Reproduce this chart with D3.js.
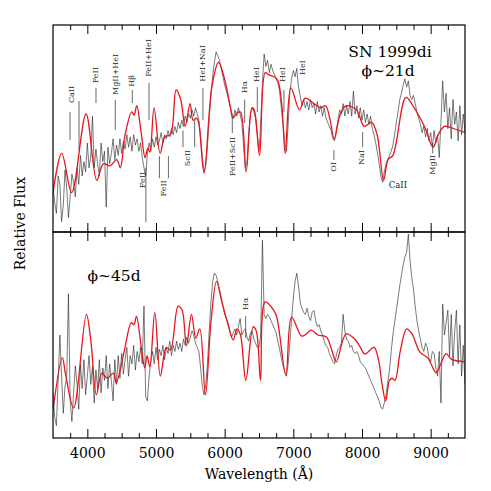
<!DOCTYPE html>
<html>
<head>
<meta charset="utf-8">
<script src="https://cdn.jsdelivr.net/npm/d3@7"></script>
<style>
  body { margin: 0; background: #fff; }
  svg { font-family: "DejaVu Serif", serif; }
  .frame { fill: none; stroke: #000; stroke-width: 1.2; }
  .tick line { stroke: #000; stroke-width: 1; }
  .tick text { font-size: 14px; fill: #000; font-family: "DejaVu Serif", serif; }
  .obs { fill: none; stroke: #222; stroke-width: 0.75; stroke-opacity: 0.8; }
  .model { fill: none; stroke: #e8141c; stroke-width: 1.3; }
  .id-line { stroke: #444; stroke-width: 0.8; }
  .id-text { font-size: 8px; fill: #222; }
</style>
</head>
<body>
<div id="wrapper"></div>
<script>
// wavelength grid of the observed spectra (Angstrom), 25 A sampling
const obsWavelengths = d3.range(3500, 9501, 25)

// observed spectrum, phase ~21d (relative flux, 0-100 of panel); one row = 200 A
const obsTop = [
  [22, 14, 9, 27, 23, 5, 13, 30],     // 3500
  [21, 7, 17, 28, 24, 17, 31, 23],    // 3700
  [37, 27, 34, 29, 43, 31, 37, 56],   // 3900
  [31, 40, 33, 27, 43, 34, 39, 12],   // 4100
  [41, 33, 38, 45, 35, 42, 37, 45],   // 4300
  [38, 44, 40, 47, 41, 46, 39, 47],   // 4500
  [42, 45, 39, 43, 36, 31, 27, 38],   // 4700
  [43, 39, 45, 41, 46, 42, 44, 48],   // 4900
  [43, 47, 45, 49, 46, 50, 47, 51],   // 5100
  [48, 53, 50, 54, 51, 56, 53, 57],   // 5300
  [55, 59, 56, 60, 57, 54, 46, 36],   // 5500
  [29, 32, 42, 55, 66, 75, 82, 87],   // 5700
  [85, 83, 79, 75, 71, 68, 65, 61],   // 5900
  [58, 55, 59, 56, 60, 57, 53, 42],   // 6100
  [31, 34, 47, 57, 60, 58, 55, 47],   // 6300
  [39, 52, 72, 86, 80, 83, 77, 81],   // 6500
  [78, 76, 74, 72, 68, 60, 52, 43],   // 6700
  [39, 52, 68, 74, 78, 75, 79, 70],   // 6900
  [66, 61, 64, 60, 63, 59, 64, 60],   // 7100
  [62, 57, 63, 58, 61, 56, 60, 55],   // 7300
  [53, 51, 49, 45, 44, 49, 54, 59],   // 7500
  [57, 62, 56, 61, 57, 63, 56, 68],   // 7700
  [57, 61, 55, 60, 54, 59, 53, 57],   // 7900
  [52, 56, 50, 47, 43, 38, 33, 27],   // 8100
  [24, 29, 33, 35, 37, 39, 42, 47],   // 8300
  [53, 58, 64, 67, 71, 74, 70, 73],   // 8500
  [66, 64, 66, 62, 58, 55, 52, 48],   // 8700
  [51, 46, 50, 44, 48, 41, 49, 43],   // 8900
  [47, 36, 53, 73, 58, 67, 50, 60],   // 9100
  [45, 64, 52, 58, 44, 61, 47, 57],   // 9300
  [48],                               // 9500
].flat()

// observed spectrum, phase ~45d
const obsBottom = [
  [22, 10, 6, 28, 50, 30, 12, 25],    // 3500
  [30, 70, 18, 8, 22, 35, 26, 14],    // 3700
  [36, 24, 38, 21, 30, 40, 26, 35],   // 3900
  [17, 33, 24, 38, 22, 34, 28, 40],   // 4100
  [24, 36, 28, 18, 38, 26, 40, 29],   // 4300
  [41, 31, 38, 44, 30, 40, 36, 45],   // 4500
  [33, 42, 37, 44, 36, 64, 20, 18],   // 4700
  [30, 37, 42, 36, 44, 38, 43, 40],   // 4900
  [45, 38, 44, 41, 47, 40, 45, 42],   // 5100
  [47, 43, 46, 42, 48, 45, 49, 46],   // 5300
  [49, 52, 50, 46, 44, 42, 34, 25],   // 5500
  [21, 26, 36, 52, 66, 76, 80, 79],   // 5700
  [76, 72, 68, 64, 60, 58, 56, 52],   // 5900
  [49, 51, 53, 50, 54, 58, 50, 52],   // 6100
  [53, 49, 47, 51, 52, 48, 46, 44],   // 6300
  [44, 50, 96, 60, 58, 60, 59, 57],   // 6500
  [55, 53, 51, 47, 43, 39, 35, 32],   // 6700
  [30, 36, 46, 58, 68, 76, 80, 74],   // 6900
  [66, 63, 61, 60, 63, 59, 57, 61],   // 7100
  [62, 57, 54, 55, 52, 50, 47, 45],   // 7300
  [44, 41, 39, 37, 36, 40, 43, 44],   // 7500
  [46, 60, 52, 48, 47, 44, 45, 42],   // 7700
  [41, 42, 40, 37, 36, 35, 34, 32],   // 7900
  [30, 28, 26, 24, 22, 20, 18, 15],   // 8100
  [14, 17, 21, 27, 33, 42, 50, 56],   // 8300
  [62, 68, 74, 79, 84, 88, 90, 99],   // 8500
  [86, 78, 72, 64, 57, 52, 48, 44],   // 8700
  [42, 46, 44, 39, 37, 42, 41, 34],   // 8900
  [30, 42, 17, 65, 50, 56, 62, 40],   // 9100
  [60, 35, 52, 62, 36, 55, 30, 45],   // 9300
  [26],                               // 9500
].flat()

// synthetic model spectra [wavelength, relative flux]
const modelTop = [[3500, 19], [3627, 38], [3772, 19], [3981, 57], [4137, 25], [4234, 33], [4330, 32],
  [4428, 35], [4480, 31], [4550, 47], [4647, 58], [4680, 56.5], [4720, 61], [4780, 49], [4841, 36],
  [4880, 40.5], [4910, 38.6], [4972, 60], [5060, 38], [5130, 46], [5210, 47], [5293, 68.6], [5360, 64],
  [5424, 51], [5497, 62], [5540, 54], [5590, 55], [5620, 53], [5700, 28.5], [5813, 70], [5910, 82],
  [5990, 75], [6080, 61], [6120, 55], [6180, 57.5], [6230, 58], [6313, 29], [6397, 60], [6430, 59],
  [6508, 37], [6590, 77], [6640, 76], [6760, 74], [6830, 62], [6882, 38], [6965, 69.6], [7090, 59],
  [7173, 64.7], [7300, 62], [7400, 60], [7470, 61], [7530, 55], [7596, 45], [7680, 56.5], [7771, 61],
  [7920, 59], [8033, 51], [8140, 53], [8220, 47], [8315, 25], [8380, 35], [8450, 37], [8640, 65],
  [8760, 60], [8910, 51], [9035, 41], [9110, 47], [9200, 51], [9330, 50], [9500, 48]]

const modelBottom = [[3500, 13.6], [3636, 39], [3680, 31.5], [3800, 14.6], [3986, 60], [4050, 47.6],
  [4132, 21], [4210, 31.5], [4290, 29], [4380, 31.5], [4420, 26.7], [4530, 41], [4641, 56], [4680, 55],
  [4715, 59], [4790, 43], [4836, 34], [4870, 40], [4910, 34.5], [4983, 61], [5064, 30], [5150, 44],
  [5210, 42.7], [5322, 64], [5380, 62], [5443, 44.7], [5516, 60], [5580, 48.5], [5638, 53], [5720, 21],
  [5800, 56], [5881, 76], [5960, 66], [6050, 55], [6124, 47.6], [6180, 53], [6230, 50], [6308, 28],
  [6415, 54], [6460, 52], [6522, 28], [6586, 66], [6680, 63.6], [6750, 59.7], [6891, 30.6], [6974, 58.7],
  [7120, 49.5], [7190, 50.5], [7260, 52.4], [7360, 50], [7480, 49], [7560, 42.7], [7625, 37], [7767, 50.5],
  [7880, 48.5], [7960, 45], [8043, 40.8], [8175, 44], [8240, 37.9], [8290, 26.7], [8345, 18], [8400, 28],
  [8440, 29], [8480, 28], [8560, 42.7], [8650, 53], [8720, 51], [8845, 41.7], [8960, 38.8], [9079, 31.6],
  [9140, 35.4], [9225, 41], [9300, 38.3], [9500, 37]]

// line identifications: vertical marker [wavelength, flux from, flux to]
const idLinesTop = [[3748, 58, 44.4], [3879, 63.3, 39.6], [4126, 69.6, 62.3], [4407, 63.8, 49.3],
  [4655, 68.6, 62.3], [4898, 72, 54], [5393, 49, 41], [5563, 54, 41], [5684, 69.6, 54],
  [6291, 64, 52.7], [6475, 70, 58], [6863, 68.6, 58], [6111, 55.5, 47.8], [4853, 31, 4.8],
  [5050, 36.7, 26], [5181, 36.7, 26], [7591, 39.6, 34.8], [8009, 48.3, 41], [9029, 43, 38]]
// labels above the spectrum [text, wavelength, flux at text bottom]
const idAbove = [["CaII", 3766, 62.3], ["FeII", 4119, 71.8], ["MgII+HeI", 4410, 66.2], ["Hβ", 4650, 70.2],
  ["FeII+HeI", 4890, 75], ["HeI+NaI", 5684, 72.6], ["Hα", 6291, 67], ["HeI", 6460, 72.5],
  ["HeI", 6849, 72.5], ["HeI", 7135, 75.8]]
// labels below the spectrum [text, wavelength, flux at text top]
const idBelow = [["ScII", 5466, 39.6], ["FeII+ScII", 6111, 45.9], ["FeII", 4800, 29], ["FeII", 5102, 25],
  ["OI", 7591, 33.8], ["NaI", 7995, 39.6], ["MgII", 9029, 37.2]]
const idLinesBottom = [[6306, 59.2, 48.5]]
const idAboveBottom = [["Hα", 6306, 62.1]]

const majorTicks = [4000, 5000, 6000, 7000, 8000, 9000]
const minorTicks = [3750, 4250, 4500, 4750, 5250, 5500, 5750, 6250, 6500, 6750,
  7250, 7500, 7750, 8250, 8500, 8750, 9250]

function drawChart() {
  const dimensions = {
    width: 491,
    height: 491,
    left: 53,
    right: 465,
    top: 25,
    middle: 232,
    bottom: 438,
  }

  const svg = d3.select("#wrapper")
    .append("svg")
      .attr("width", dimensions.width)
      .attr("height", dimensions.height)

  const xScale = d3.scaleLinear()
    .domain([3500, 9500])
    .range([dimensions.left, dimensions.right])

  const yTop = d3.scaleLinear()
    .domain([0, 100])
    .range([dimensions.middle, dimensions.top])

  const yBottom = d3.scaleLinear()
    .domain([0, 100])
    .range([dimensions.bottom, dimensions.middle])

  const defs = svg.append("defs")
  const panels = [
    {id: "clip-top", y0: dimensions.top, y1: dimensions.middle},
    {id: "clip-bottom", y0: dimensions.middle, y1: dimensions.bottom},
  ]
  panels.forEach(p => {
    defs.append("clipPath").attr("id", p.id)
      .append("rect")
        .attr("x", dimensions.left)
        .attr("y", p.y0)
        .attr("width", dimensions.right - dimensions.left)
        .attr("height", p.y1 - p.y0)
  })

  // spectra: observed (black) and model (red)
  function drawPanel(clipId, yScale, obs, model) {
    const g = svg.append("g").attr("clip-path", `url(#${clipId})`)
    const obsLine = d3.line()
      .x((d, i) => xScale(obsWavelengths[i]))
      .y(d => yScale(d))
    g.append("path")
      .attr("class", "obs")
      .attr("d", obsLine(obs))
    const modelLine = d3.line()
      .x(d => xScale(d[0]))
      .y(d => yScale(d[1]))
      .curve(d3.curveCatmullRom.alpha(0.5))
    g.append("path")
      .attr("class", "model")
      .attr("d", modelLine(model))
    return g
  }
  drawPanel("clip-top", yTop, obsTop, modelTop)
  drawPanel("clip-bottom", yBottom, obsBottom, modelBottom)

  // line identifications
  function drawIds(yScale, lines, above, below) {
    const g = svg.append("g")
    g.selectAll(".id-line")
      .data(lines)
      .join("line")
        .attr("class", "id-line")
        .attr("x1", d => xScale(d[0]))
        .attr("x2", d => xScale(d[0]))
        .attr("y1", d => yScale(d[1]))
        .attr("y2", d => yScale(d[2]))
    const labels = above.map(d => ({text: d[0], wl: d[1], f: d[2], anchor: "start"}))
      .concat(below.map(d => ({text: d[0], wl: d[1], f: d[2], anchor: "end"})))
    g.selectAll(".id-text")
      .data(labels)
      .join("text")
        .attr("class", "id-text")
        .attr("transform", d => `translate(${xScale(d.wl)},${yScale(d.f)}) rotate(-90)`)
        .attr("text-anchor", d => d.anchor)
        .attr("dominant-baseline", "central")
        .text(d => d.text)
  }
  drawIds(yTop, idLinesTop, idAbove, idBelow)
  drawIds(yBottom, idLinesBottom, idAboveBottom, [])

  // horizontal CaII label under the IR triplet
  svg.append("text")
    .attr("class", "id-text")
    .attr("x", xScale(8523))
    .attr("y", yTop(21.3))
    .attr("text-anchor", "middle")
    .style("font-size", "8.5px")
    .text("CaII")

  // frames
  panels.forEach(p => {
    svg.append("rect")
      .attr("class", "frame")
      .attr("x", dimensions.left)
      .attr("y", p.y0)
      .attr("width", dimensions.right - dimensions.left)
      .attr("height", p.y1 - p.y0)
  })

  // ticks on every horizontal edge, pointing into the panels
  function addTicks(generator, y, values, size, labels) {
    const axis = svg.append("g")
      .attr("transform", `translate(0,${y})`)
      .call(generator(xScale)
        .tickValues(values)
        .tickSize(-size)
        .tickPadding(10)
        .tickFormat(labels ? d3.format("d") : ""))
    axis.select(".domain").remove()
    return axis
  }
  addTicks(d3.axisTop, dimensions.top, majorTicks, 9, false)
  addTicks(d3.axisTop, dimensions.top, minorTicks, 5, false)
  addTicks(d3.axisBottom, dimensions.middle, majorTicks, 9, false)
  addTicks(d3.axisBottom, dimensions.middle, minorTicks, 5, false)
  addTicks(d3.axisTop, dimensions.middle, majorTicks, 9, false)
  addTicks(d3.axisTop, dimensions.middle, minorTicks, 5, false)
  addTicks(d3.axisBottom, dimensions.bottom, minorTicks, 5, false)
  addTicks(d3.axisBottom, dimensions.bottom, majorTicks, 9, true)

  // axis labels
  svg.append("text")
    .attr("x", (dimensions.left + dimensions.right) / 2)
    .attr("y", 479)
    .attr("text-anchor", "middle")
    .style("font-size", "14px")
    .text("Wavelength (Å)")

  svg.append("text")
    .attr("transform", `translate(25,${(dimensions.top + dimensions.bottom) / 2 - 8}) rotate(-90)`)
    .attr("text-anchor", "middle")
    .style("font-size", "14px")
    .text("Relative Flux")

  // panel annotations
  svg.append("text")
    .attr("x", 390)
    .attr("y", 57)
    .attr("text-anchor", "middle")
    .style("font-size", "15.5px")
    .text("SN 1999di")
  svg.append("text")
    .attr("x", 388)
    .attr("y", 76)
    .attr("text-anchor", "middle")
    .style("font-size", "15.5px")
    .text("ϕ~21d")
  svg.append("text")
    .attr("x", 114)
    .attr("y", 281)
    .attr("text-anchor", "middle")
    .style("font-size", "15.5px")
    .text("ϕ~45d")
}
drawChart()
</script>
</body>
</html>
